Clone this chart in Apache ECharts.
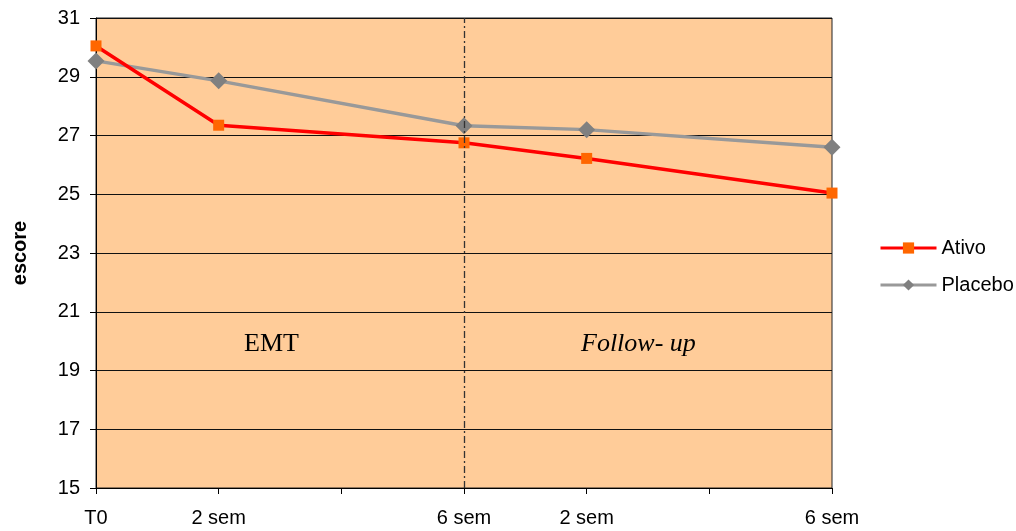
<!DOCTYPE html>
<html>
<head>
<meta charset="utf-8">
<script src="https://cdn.jsdelivr.net/npm/echarts@6/dist/echarts.min.js"></script>
<style>html,body{margin:0;padding:0;background:#fff}#c{width:1016px;height:531px}</style>
</head>
<body>
<div id="c"></div>
<script>
const categories = ['T0', '2 sem', '', '6 sem', '2 sem', '', '6 sem'];
const ativo = [30.05, 27.35, null, 26.75, 26.22, null, 25.04];
const placebo = [29.54, 28.86, null, 27.33, 27.2, null, 26.6];
const yTicks = {min: 15, max: 31, interval: 2};
const phaseLabels = ['EMT', 'Follow- up'];

const chart = echarts.init(document.getElementById('c'));
chart.setOption({
  animation: false,
  backgroundColor: '#fff',
  grid: {left: 96, right: 184, top: 18, bottom: 43, show: true, backgroundColor: '#FFCC99', borderWidth: 1, borderColor: '#222'},
  legend: {
    orient: 'vertical', left: 879, top: 238, itemGap: 17, padding: 0,
    itemWidth: 56, itemHeight: 14,
    lineStyle: {width: 3},
    textStyle: {fontFamily: 'Liberation Sans, Arial', fontSize: 20, color: '#000'},
    data: ['Ativo', 'Placebo']
  },
  xAxis: {
    type: 'category', data: categories, boundaryGap: false,
    axisLine: {lineStyle: {color: '#000', width: 1}},
    axisTick: {show: true, length: 6, inside: false, lineStyle: {color: '#000'}, alignWithLabel: true, interval: 0},
    axisLabel: {interval: 0, margin: 20, fontFamily: 'Liberation Sans, Arial', fontSize: 20, color: '#000'},
    splitLine: {show: false}
  },
  yAxis: {
    type: 'value', min: yTicks.min, max: yTicks.max, interval: yTicks.interval,
    name: 'escore', nameLocation: 'middle', nameGap: 66, nameRotate: 90,
    nameTextStyle: {fontFamily: 'Liberation Sans, Arial', fontSize: 20, fontWeight: 'bold', color: '#000'},
    axisLine: {show: true, lineStyle: {color: '#000', width: 1}},
    axisTick: {show: true, length: 6, lineStyle: {color: '#000'}},
    axisLabel: {margin: 16, fontFamily: 'Liberation Sans, Arial', fontSize: 20, color: '#000'},
    splitLine: {show: true, lineStyle: {color: '#111', width: 1}}
  },
  series: [
    {
      name: 'Ativo', type: 'line', data: ativo, connectNulls: true,
      symbol: 'rect', symbolSize: 11,
      lineStyle: {color: '#FF0000', width: 3.5},
      itemStyle: {color: '#FF6600'},
      z: 3,
      markLine: {
        silent: true, symbol: 'none', label: {show: false},
        lineStyle: {color: '#333', width: 1.3, type: [7, 3, 2, 3]},
        data: [{xAxis: 3}]
      }
    },
    {
      name: 'Placebo', type: 'line', data: placebo, connectNulls: true,
      symbol: 'diamond', symbolSize: 17,
      lineStyle: {color: '#999999', width: 3.5},
      itemStyle: {color: '#808080'},
      z: 2
    }
  ],
  graphic: [
    {type: 'text', x: 244, y: 344, style: {text: phaseLabels[0], font: '26px "Liberation Serif", "Times New Roman", serif', fill: '#000', verticalAlign: 'middle'}},
    {type: 'text', x: 581, y: 344, style: {text: phaseLabels[1], font: 'italic 26px "Liberation Serif", "Times New Roman", serif', fill: '#000', verticalAlign: 'middle'}}
  ]
});
</script>
</body>
</html>
